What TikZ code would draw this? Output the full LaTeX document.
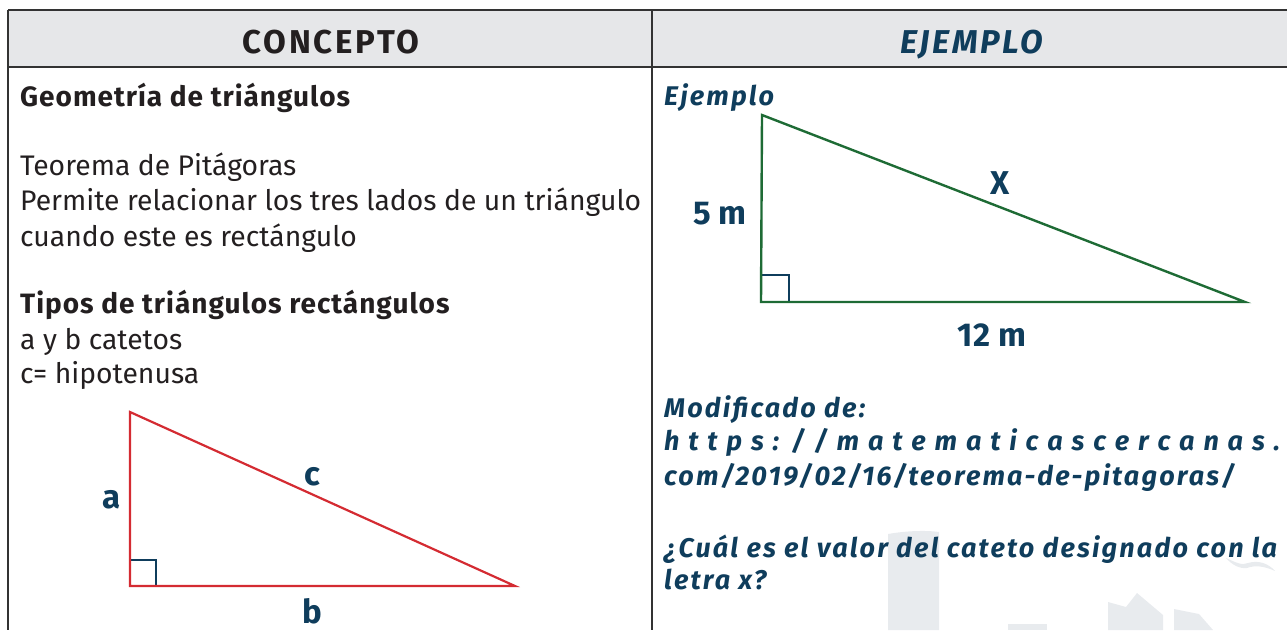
\documentclass[tikz,border=0pt]{standalone}
\usepackage{fontspec}
\setmainfont{Fira Sans}
\usetikzlibrary{positioning}
\definecolor{headgray}{HTML}{E6E7E9}
\definecolor{ink}{HTML}{231F20}
\definecolor{inkblue}{HTML}{0F3D5C}
\definecolor{trired}{HTML}{D42B32}
\definecolor{trigreen}{HTML}{1E6B35}
\definecolor{marca}{HTML}{E8EBEE}
\tikzset{%
	borde/.style     = {line width=1.4pt, draw=black!80},
	cabeza/.style    = {anchor=base, inner sep=0pt, font=\fontsize{33}{35}\selectfont\bfseries\addfontfeatures{LetterSpace=8}},
	texto/.style     = {anchor=base west, inner sep=0pt, text=ink, font=\fontsize{28.3}{30}\selectfont},
	titulo/.style    = {texto, font=\fontsize{28}{30}\selectfont\bfseries\addfontfeatures{LetterSpace=3.5}},
	ejtexto/.style   = {anchor=base west, inner sep=0pt, text=inkblue, font=\fontsize{27}{30}\selectfont\bfseries\itshape\addfontfeatures{LetterSpace=8}},
	lado/.style      = {inner sep=0pt, text=inkblue, font=\fontsize{33}{35}\selectfont\bfseries},
	recto/.style     = {inkblue, line width=1.8pt},
}
\begin{document}
\begin{tikzpicture}[x=1pt,y=-1pt]
	\useasboundingbox (0,0) rectangle (1287,630);
	% marca de agua
	\fill[marca] (888,534) .. controls (905,531) and (925,530) .. (939,532) -- (939,630) -- (888,630) -- cycle;
	\fill[marca] (1008,624) rectangle (1047,630);
	\fill[marca] (1108,602) -- (1126,607) -- (1137,593) -- (1163,615) -- (1163,630) -- (1108,630) -- cycle;
	\fill[marca] (1174,609) -- (1199,614) -- (1213,630) -- (1174,630) -- cycle;
	\fill[marca] (1226,558) .. controls (1235,562) and (1242,566) .. (1248,563) .. controls (1258,560) and (1268,563) .. (1275,571) .. controls (1264,566) and (1255,565) .. (1247,568) .. controls (1240,569) and (1232,565) .. cycle;
	% tabla
	\fill[headgray] (8,10) rectangle (1287,67);
	\draw[borde] (8,10) -- (1287,10);
	\draw[borde] (8,67) -- (1287,67);
	\draw[borde] (8,10) -- (8,630);
	\draw[borde] (652,10) -- (652,630);
	\node[cabeza, text=ink] (concepto) at (331,53) {CONCEPTO};
	\node[cabeza, text=inkblue, font=\fontsize{33}{35}\selectfont\bfseries\itshape\addfontfeatures{LetterSpace=8}] (ejemplo) at (972,53) {EJEMPLO};
	% columna concepto
	\node[titulo] (geo) at (20,106) {Geometría de triángulos};
	\node[texto] (teo) at (20,175) {Teorema de Pitágoras};
	\node[texto] (per) at (20,210.5) {Permite relacionar los tres lados de un triángulo};
	\node[texto] (cua) at (20,246) {cuando este es rectángulo};
	\node[titulo] (tip) at (20,313) {Tipos de triángulos rectángulos};
	\node[texto] (cat) at (20,349) {a y b catetos};
	\node[texto] (hip) at (20,383) {c= hipotenusa};
	\coordinate (A) at (130,412);
	\coordinate (C) at (130,586);
	\coordinate (B) at (515,586);
	\draw[recto] (130,560) -- (156,560) -- (156,586);
	\draw[trired, line width=2.2pt] (A) -- (C) -- (B) -- cycle;
	\node[lado] (la) at (112,500) {a};
	\node[lado] (lc) at (312,477) {c};
	\node[lado] (lb) at (312,611) {b};
	% columna ejemplo
	\node[ejtexto] (ej) at (664,105) {Ejemplo};
	\coordinate (P) at (762,115);
	\coordinate (Q) at (761,302);
	\coordinate (R) at (1245,302);
	\draw[recto] (761,275) -- (789,275) -- (789,302);
	\draw[trigreen, line width=2.4pt] (P) -- (Q) -- (R) -- cycle;
	\node[lado] (l5) at (720,214) {5 m};
	\node[lado] (lx) at (1000,183) {X};
	\node[lado] (l12) at (992,335) {12 m};
	\node[ejtexto] (mod) at (664,417) {Modificado de:};
	\node[ejtexto] (url) at (664,450) {\makebox[616pt][s]{h t t p s : / / m a t e m a t i c a s c e r c a n a s .}};
	\node[ejtexto] (com) at (664,485) {com/2019/02/16/teorema-de-pitagoras/};
	\node[ejtexto] (cual) at (664,557) {¿Cuál es el valor del cateto designado con la};
	\node[ejtexto] (let) at (664,589) {letra x?};
\end{tikzpicture}
\end{document}
